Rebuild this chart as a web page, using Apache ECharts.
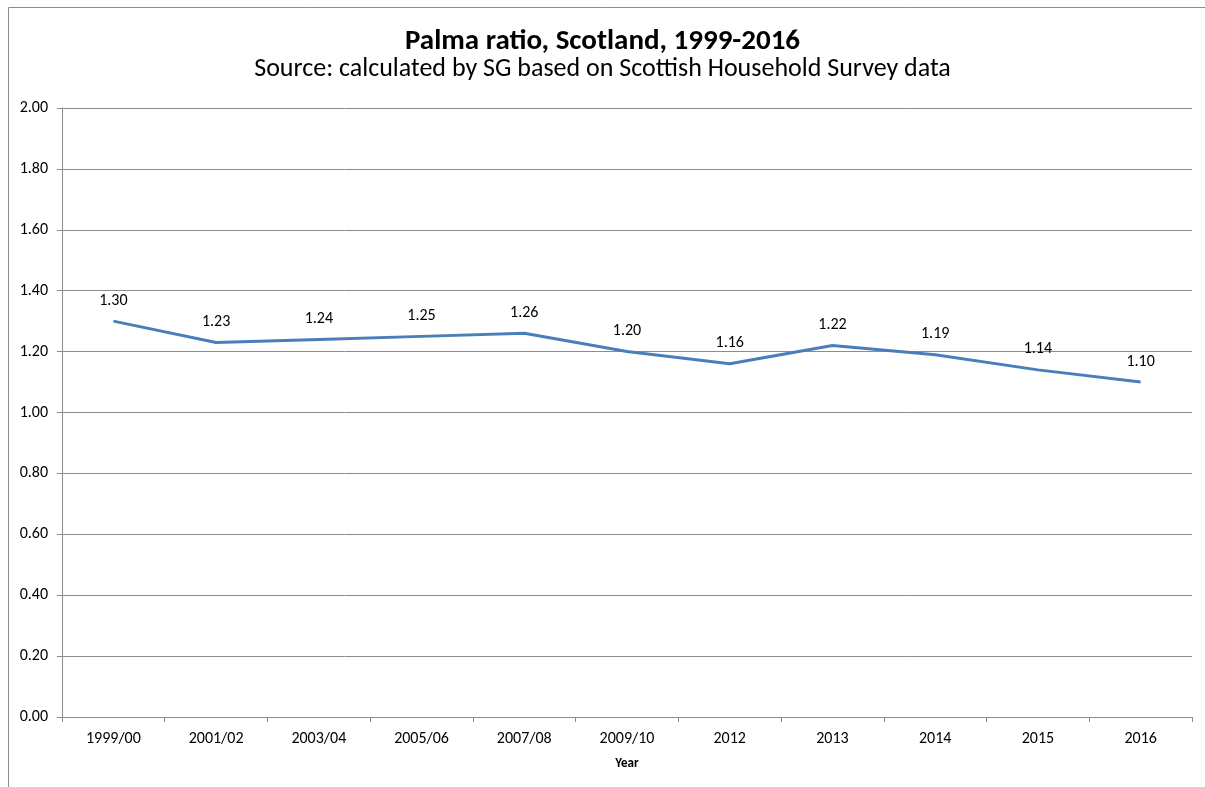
<!DOCTYPE html>
<html>
<head>
<meta charset="utf-8">
<script src="https://cdn.jsdelivr.net/npm/echarts@6/dist/echarts.min.js"></script>
<style>
html,body{margin:0;padding:0;background:#fff;}
#chart{width:1205px;height:787px;}
</style>
</head>
<body>
<div id="chart"></div>
<script>
const years = ['1999/00','2001/02','2003/04','2005/06','2007/08','2009/10','2012','2013','2014','2015','2016'];
const palma = [1.30,1.23,1.24,1.25,1.26,1.20,1.16,1.22,1.19,1.14,1.10];
const yTicks = {min:0, max:2, step:0.2};

let myChart = echarts.init(document.getElementById('chart'));
const font = 'Carlito, Calibri, "Open Sans", sans-serif';

let option = {
	animation: false,
	textStyle: {fontFamily: font},
	title: {
		text: 'Palma ratio, Scotland, 1999-2016',
		subtext: 'Source: calculated by SG based on Scottish Household Survey data',
		left: 'center',
		top: 22,
		itemGap: 0,
		textStyle: {fontFamily: font, fontSize: 29, fontWeight: 'bold', color: '#000'},
		subtextStyle: {fontFamily: font, fontSize: 26, color: '#000'}
	},
	graphic: [{
		type: 'rect',
		shape: {x: 8.5, y: 7.5, width: 1300, height: 900},
		style: {fill: 'none', stroke: '#8c8c8c', lineWidth: 1},
		silent: true
	}],
	grid: {left: 62, right: 13, top: 108, bottom: 70},
	xAxis: {
		type: 'category',
		data: years,
		boundaryGap: true,
		name: 'Year',
		nameLocation: 'middle',
		nameGap: 40,
		nameTextStyle: {fontFamily: font, fontSize: 13, fontWeight: 'bold', color: '#000'},
		axisLine: {lineStyle: {color: '#8c8c8c'}},
		axisTick: {show: true, length: 5, lineStyle: {color: '#8c8c8c'}},
		axisLabel: {interval: 0, fontSize: 16, color: '#000', margin: 14}
	},
	yAxis: {
		type: 'value',
		min: yTicks.min,
		max: yTicks.max,
		interval: yTicks.step,
		axisLine: {show: true, lineStyle: {color: '#8c8c8c'}},
		axisTick: {show: true, length: 5, lineStyle: {color: '#8c8c8c'}},
		axisLabel: {fontSize: 16, color: '#000', margin: 14, formatter: v => v.toFixed(2)},
		splitLine: {lineStyle: {color: '#8c8c8c'}}
	},
	series: [{
		name: 'Palma ratio',
		type: 'line',
		data: palma,
		symbol: 'circle',
		symbolSize: 1,
		showSymbol: true,
		itemStyle: {color: 'rgba(0,0,0,0)', borderWidth: 0},
		lineStyle: {width: 3, color: '#4a7ebb'},
		label: {
			show: true,
			position: 'top',
			distance: 12,
			fontSize: 16,
			color: '#000',
			formatter: p => p.value.toFixed(2)
		}
	}]
};

myChart.setOption(option);
</script>
</body>
</html>
